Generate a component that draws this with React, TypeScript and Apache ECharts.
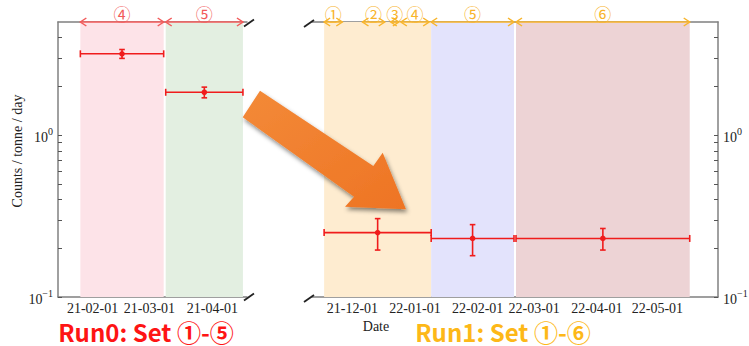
import { useEffect, useRef } from 'react';
import * as echarts from 'echarts';

const day = (s: string) => Date.parse(s + 'T00:00:00Z');

// ---- Run0 (2021) ----
const run0Range = ['2021-01-15', '2021-04-18'];
const run0Ticks = ['2021-02-01', '2021-03-01', '2021-04-01'];
const run0SetLabels = ['④', '⑤'];
const run0SetStart = ['2021-01-26', '2021-03-09'];
const run0SetEnd = ['2021-03-08', '2021-04-16'];
const run0BinStart = ['2021-01-26', '2021-03-09'];
const run0BinEnd = ['2021-03-08', '2021-04-16'];
const run0Rate = [3.18, 1.84];
const run0RateErr = [0.2, 0.14];

// ---- Run1 (2021-2022) ----
const run1Range = ['2021-11-11', '2022-05-31'];
const run1Ticks = ['2021-12-01', '2022-01-01', '2022-02-01', '2022-03-01', '2022-04-01', '2022-05-01'];
const run1SetLabels = ['①', '②', '③', '④', '⑤', '⑥'];
const run1SetStart = ['2021-11-17', '2021-12-06', '2021-12-20', '2021-12-25', '2022-01-09', '2022-02-20'];
const run1SetEnd = ['2021-11-26', '2021-12-17', '2021-12-24', '2022-01-08', '2022-02-19', '2022-05-17'];
const run1BinStart = ['2021-11-17', '2022-01-09', '2022-02-20'];
const run1BinEnd = ['2022-01-09', '2022-02-19', '2022-05-17'];
const run1Rate = [0.25, 0.23, 0.23];
const run1RateErr = [0.055, 0.05, 0.035];

// ---- rate axis ----
const yRange = [0.1, 5];
const yTickValues = [0.1, 0.2, 0.3, 0.4, 0.5, 0.6, 0.7, 0.8, 0.9, 1, 2, 3, 4];
const yLabelValues = [0.1, 1];

const run0BandColors = ['#fde3e8', '#e3efe1'];
const run1BandColors = ['#feecd0', '#e3e3fc', '#edd3d5'];
const RUN0_COLOR = '#f25a5a';
const RUN1_COLOR = '#f8b42a';
const POINT_COLOR = '#f01c1c';
const AXIS_COLOR = '#808080';
const SERIF = '"Liberation Serif", "DejaVu Serif", serif';
const CJK = '"Noto Sans CJK SC", "Noto Sans", sans-serif';

const G0 = { left: 58, top: 22, width: 189, height: 275 };
const G1 = { left: 312, top: 22, width: 406, height: 275 };

const fmtDate = (v: number) => {
  const d = new Date(v);
  const p = (n: number) => String(n).padStart(2, '0');
  return `${p(d.getUTCFullYear() % 100)}-${p(d.getUTCMonth() + 1)}-${p(d.getUTCDate())}`;
};

const fmtPow = (v: number) => {
  const e = Math.round(Math.log10(v));
  return `{b|10}{s|${e < 0 ? '−' + -e : e}}`;
};

// Dates are plotted as UTC timestamps on a linear axis
const xAxisFor = (gridIndex: number, range: string[], ticks: string[], position: 'top' | 'bottom') => ({
  type: 'value',
  gridIndex,
  position,
  min: day(range[0]),
  max: day(range[1]),
  axisLine: { show: true, lineStyle: { color: AXIS_COLOR, width: 1.5 } },
  axisTick: {
    show: true,
    inside: true,
    length: 4,
    customValues: ticks.map(day),
    lineStyle: { color: '#222', width: 1 },
  },
  axisLabel: {
    show: position === 'bottom',
    customValues: ticks.map(day),
    formatter: (v: number) => fmtDate(v),
    margin: 4,
    fontFamily: SERIF,
    fontSize: 14,
    color: '#222',
  },
  splitLine: { show: false },
  minorTick: { show: false },
});

const yAxisFor = (gridIndex: number, position: 'left' | 'right') => ({
  type: 'log',
  logBase: 10,
  gridIndex,
  position,
  min: yRange[0],
  max: yRange[1],
  axisLine: { show: true, lineStyle: { color: AXIS_COLOR, width: 1.5 } },
  axisTick: {
    show: true,
    inside: true,
    length: 4,
    customValues: yTickValues,
    lineStyle: { color: '#555', width: 1 },
  },
  axisLabel: {
    show: true,
    customValues: yLabelValues,
    formatter: (v: number) => fmtPow(v),
    margin: 5,
    rich: {
      b: { fontFamily: SERIF, fontSize: 14, color: '#222', lineHeight: 18, verticalAlign: 'bottom' },
      s: { fontFamily: SERIF, fontSize: 10, color: '#222', lineHeight: 18, verticalAlign: 'top', padding: [0, 0, 8, 0] },
    },
  },
  splitLine: { show: false },
});

const errorBarItem = (params: any, api: any) => {
  const x0 = api.value(0);
  const x1 = api.value(1);
  const v = api.value(2);
  const e = api.value(3);
  const xm = (x0 + x1) / 2;
  const pL = api.coord([x0, v]);
  const pR = api.coord([x1, v]);
  const pM = api.coord([xm, v]);
  const pT = api.coord([xm, v + e]);
  const pB = api.coord([xm, v - e]);
  const style = { stroke: POINT_COLOR, lineWidth: 1.6 };
  const capH = 3.5;
  const capV = 2.8;
  const line = (x1_: number, y1_: number, x2_: number, y2_: number) => ({
    type: 'line',
    shape: { x1: x1_, y1: y1_, x2: x2_, y2: y2_ },
    style,
  });
  return {
    type: 'group',
    children: [
      line(pL[0], pL[1], pR[0], pR[1]),
      line(pL[0], pL[1] - capH, pL[0], pL[1] + capH),
      line(pR[0], pR[1] - capH, pR[0], pR[1] + capH),
      line(pT[0], pT[1], pB[0], pB[1]),
      line(pT[0] - capV, pT[1], pT[0] + capV, pT[1]),
      line(pB[0] - capV, pB[1], pB[0] + capV, pB[1]),
      { type: 'circle', shape: { cx: pM[0], cy: pM[1], r: 2.8 }, style: { fill: POINT_COLOR } },
    ],
  };
};

const setArrowItem = (labels: string[], color: string) => (params: any, api: any) => {
  const a = api.coord([api.value(0), yRange[1]]);
  const b = api.coord([api.value(1), yRange[1]]);
  const y = a[1];
  const w = 6;
  const h = 4;
  const style = { stroke: color, lineWidth: 1.5, fill: 'none' };
  return {
    type: 'group',
    children: [
      { type: 'line', shape: { x1: a[0], y1: y, x2: b[0], y2: y }, style },
      { type: 'polyline', shape: { points: [[a[0] + w, y - h], [a[0], y], [a[0] + w, y + h]] }, style },
      { type: 'polyline', shape: { points: [[b[0] - w, y - h], [b[0], y], [b[0] - w, y + h]] }, style },
      {
        type: 'text',
        x: (a[0] + b[0]) / 2,
        y: y - 9,
        style: {
          text: labels[params.dataIndex],
          fill: color,
          font: `17px ${CJK}`,
          align: 'center',
          verticalAlign: 'middle',
        },
      },
    ],
  };
};

const bands = (start: string[], end: string[], colors: string[]) =>
  start.map((s, i) => [
    { xAxis: day(s), itemStyle: { color: colors[i] } },
    { xAxis: day(end[i]) },
  ]);

const breakMark = (cx: number, cy: number) => ({
  type: 'line',
  z: 20,
  shape: { x1: cx - 5, y1: cy + 3.5, x2: cx + 5, y2: cy - 3.5 },
  style: { stroke: '#222', lineWidth: 1.8 },
});

export default function App() {
  const ref = useRef<HTMLDivElement>(null);

  useEffect(() => {
    if (!ref.current) return;
    const chart = echarts.init(ref.current, undefined, { renderer: 'svg' });

    const run0Points = run0BinStart.map((s, i) => [day(s), day(run0BinEnd[i]), run0Rate[i], run0RateErr[i]]);
    const run1Points = run1BinStart.map((s, i) => [day(s), day(run1BinEnd[i]), run1Rate[i], run1RateErr[i]]);
    const run0Sets = run0SetStart.map((s, i) => [day(s), day(run0SetEnd[i])]);
    const run1Sets = run1SetStart.map((s, i) => [day(s), day(run1SetEnd[i])]);

    const g0r = G0.left + G0.width;
    const g0b = G0.top + G0.height;
    const g1b = G1.top + G1.height;

    const runTitle = (text: string, x: number, fill: string) => ({
      type: 'text',
      x,
      y: 331,
      style: {
        text,
        font: `bold 24px ${CJK}`,
        lineHeight: 24,
        fill,
        align: 'center',
        verticalAlign: 'middle',
      },
    });

    chart.setOption({
      animation: false,
      backgroundColor: '#ffffff',
      grid: [
        { ...G0, outerBoundsMode: 'none' },
        { ...G1, outerBoundsMode: 'none' },
      ],
      xAxis: [
        xAxisFor(0, run0Range, run0Ticks, 'bottom'),
        xAxisFor(0, run0Range, run0Ticks, 'top'),
        xAxisFor(1, run1Range, run1Ticks, 'bottom'),
        xAxisFor(1, run1Range, run1Ticks, 'top'),
      ],
      yAxis: [yAxisFor(0, 'left'), yAxisFor(1, 'right')],
      series: [
        {
          type: 'custom',
          name: 'Run0 rate',
          xAxisIndex: 0,
          yAxisIndex: 0,
          encode: { x: [0, 1], y: 2 },
          renderItem: errorBarItem,
          data: run0Points,
          z: 5,
          markArea: { silent: true, z: 1, data: bands(run0BinStart, run0BinEnd, run0BandColors) },
        },
        {
          type: 'custom',
          name: 'Run0 sets',
          xAxisIndex: 0,
          yAxisIndex: 0,
          encode: { x: [0, 1] },
          renderItem: setArrowItem(run0SetLabels, RUN0_COLOR),
          data: run0Sets,
          clip: false,
          z: 6,
        },
        {
          type: 'custom',
          name: 'Run1 rate',
          xAxisIndex: 2,
          yAxisIndex: 1,
          encode: { x: [0, 1], y: 2 },
          renderItem: errorBarItem,
          data: run1Points,
          z: 5,
          markArea: { silent: true, z: 1, data: bands(run1BinStart, run1BinEnd, run1BandColors) },
        },
        {
          type: 'custom',
          name: 'Run1 sets',
          xAxisIndex: 2,
          yAxisIndex: 1,
          encode: { x: [0, 1] },
          renderItem: setArrowItem(run1SetLabels, RUN1_COLOR),
          data: run1Sets,
          clip: false,
          z: 6,
        },
      ],
      graphic: [
        {
          type: 'text',
          x: 17.5,
          y: 151,
          rotation: Math.PI / 2,
          style: {
            text: 'Counts / tonne / day',
            font: `14px ${SERIF}`,
            fill: '#222',
            align: 'center',
            verticalAlign: 'middle',
          },
        },
        {
          type: 'text',
          x: 376,
          y: 326,
          style: { text: 'Date', font: `14px ${SERIF}`, fill: '#222', align: 'center', verticalAlign: 'middle' },
        },
        runTitle('Run0: Set ①-⑤', 146, '#fe1414'),
        runTitle('Run1: Set ①-⑥', 503, '#fdb818'),
        {
          type: 'polygon',
          z: 30,
          shape: {
            points: [
              [260, 90.7],
              [373.3, 166],
              [382.7, 152.7],
              [406, 209.3],
              [345, 206.7],
              [354, 196.7],
              [242.7, 117.3],
            ],
          },
          style: {
            fill: {
              type: 'linear',
              x: 0,
              y: 0,
              x2: 1,
              y2: 1,
              colorStops: [
                { offset: 0, color: '#f38a38' },
                { offset: 1, color: '#ee7424' },
              ],
            },
            shadowColor: 'rgba(0,0,0,0.45)',
            shadowBlur: 4,
            shadowOffsetX: 1.5,
            shadowOffsetY: 3,
          },
        },
        breakMark(g0r + 2, G0.top + 1),
        breakMark(g0r + 2, g0b),
        breakMark(G1.left - 3, G1.top + 1.5),
        breakMark(G1.left - 3, g1b + 1.5),
      ],
    });

    return () => chart.dispose();
  }, []);

  return (
    <div
      ref={ref}
      style={{ position: 'absolute', left: 0, top: 0, width: 749, height: 346 }}
    />
  );
}
